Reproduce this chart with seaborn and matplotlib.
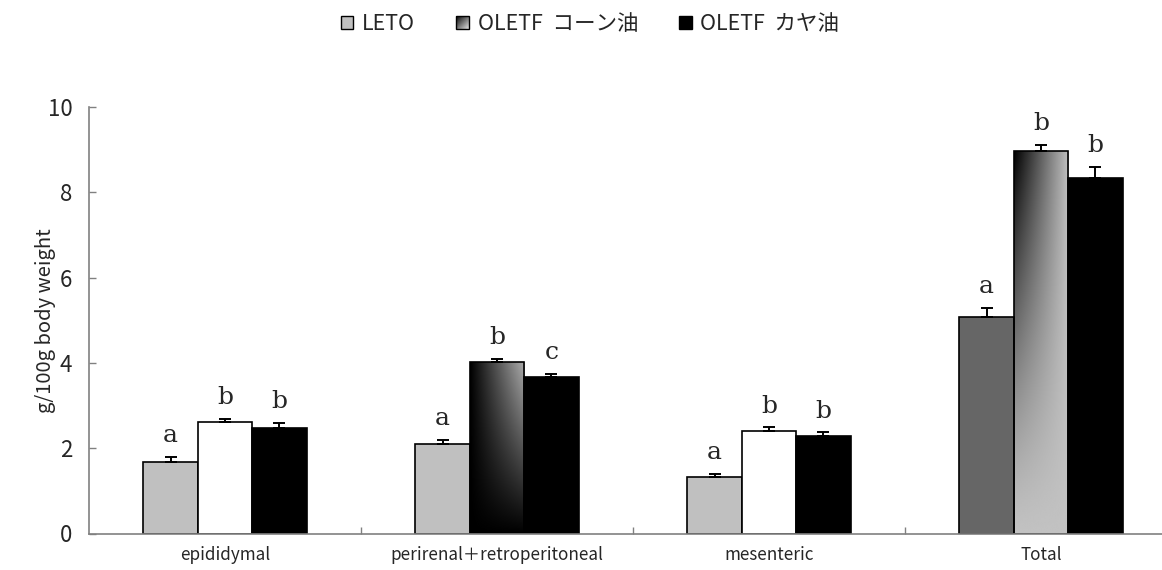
import numpy as np
import pandas as pd
import matplotlib
matplotlib.use("Agg")
import matplotlib.pyplot as plt
import seaborn as sns
from matplotlib.patches import Rectangle
from matplotlib.legend_handler import HandlerBase
from matplotlib.image import BboxImage
from matplotlib.transforms import Bbox, TransformedBbox

# ---- data -------------------------------------------------------------
categories = ["epididymal", "perirenal＋retroperitoneal", "mesenteric", "Total"]
groups = ["LETO", "OLETF  コーン油", "OLETF  カヤ油"]

leto_mean = [1.68, 2.11, 1.33, 5.07]
corn_mean = [2.62, 4.02, 2.40, 8.97]
kaya_mean = [2.47, 3.67, 2.28, 8.34]

leto_se = [0.11, 0.08, 0.06, 0.22]
corn_se = [0.07, 0.08, 0.09, 0.14]
kaya_se = [0.13, 0.08, 0.09, 0.26]

leto_sig = ["a", "a", "a", "a"]
corn_sig = ["b", "b", "b", "b"]
kaya_sig = ["b", "c", "b", "b"]

means = [leto_mean, corn_mean, kaya_mean]
errors = [leto_se, corn_se, kaya_se]
letters = [leto_sig, corn_sig, kaya_sig]

df = pd.DataFrame({
    "category": np.repeat([categories], len(groups), axis=0).ravel(),
    "group": np.repeat(groups, len(categories)),
    "value": np.concatenate(means),
})

# ---- styling ----------------------------------------------------------
sns.set_style("white")
plt.rcParams["font.family"] = ["Noto Sans CJK JP", "DejaVu Sans"]

# per-bar fills (group x category); "corner_tr"/"corner_tl" are gradient fills
fills = [
    ["#c0c0c0", "#c0c0c0", "#c0c0c0", "#666666"],
    ["#ffffff", "corner_tr", "#ffffff", "corner_tl"],
    ["#000000", "#000000", "#000000", "#000000"],
]
legend_fills = ["#c0c0c0", "legend_grad", "#000000"]
spine_gray = "#808080"


def gradient(kind, n=200):
    x = np.linspace(0, 1, n)[None, :]
    y = np.linspace(0, 1, n)[:, None]  # 0 at top row
    if kind == "corner_tr":
        # light toward the upper-right corner
        g = 0.68 * x * (1 - y)
    elif kind == "corner_tl":
        # dark at the upper-left corner, lightening outward
        g = 0.76 * (1 - (1 - x) * (1 - y) ** 1.3)
    else:  # legend swatch: dark top-left to light bottom-right
        g = 0.9 * (x + y) / 2
    return g


fig = plt.figure(figsize=(11.62, 5.70), dpi=100)
ax = fig.add_axes([89 / 1162, 1 - 533.5 / 570, (1177 - 89) / 1162, (533.5 - 107) / 570])

sns.barplot(data=df, x="category", y="value", hue="group", order=categories,
            hue_order=groups, width=0.6, errorbar=None, edgecolor="black",
            linewidth=1.2, palette=["#c0c0c0", "#ffffff", "#000000"],
            legend=False, ax=ax, saturation=1)

bar_containers = list(ax.containers)
for gi, cont in enumerate(bar_containers):
    for ci, patch in enumerate(cont.patches):
        fill = fills[gi][ci]
        x0, w, h = patch.get_x(), patch.get_width(), patch.get_height()
        if fill.startswith("corner"):
            patch.set_facecolor("none")
            im = ax.imshow(gradient(fill), cmap="gray", vmin=0, vmax=1,
                           extent=[x0, x0 + w, 0, h], aspect="auto",
                           interpolation="bilinear", zorder=patch.get_zorder() - 0.01)
            im.set_clip_path(patch)
        else:
            patch.set_facecolor(fill)
        xc = x0 + w / 2
        ax.errorbar([xc], [h], yerr=[[0], [errors[gi][ci]]], fmt="none",
                    ecolor="black", elinewidth=1.4, capsize=4, capthick=1.4,
                    zorder=patch.get_zorder() + 1)
        ax.annotate(letters[gi][ci], (xc, h + errors[gi][ci]), xytext=(0, 7),
                    textcoords="offset points", ha="center", va="bottom",
                    fontsize=18, family="DejaVu Serif")

ax.set_xlim(-0.5, len(categories) - 0.5)
ax.set_ylim(0, 10)
ax.set_yticks(np.arange(0, 11, 2))
ax.set_xlabel("")
ax.set_ylabel("g/100g body weight", fontsize=14.5)
ax.yaxis.set_label_coords(-0.030, 0.5)

ax.tick_params(axis="y", direction="in", length=5, width=1, color=spine_gray,
               labelsize=16, pad=12, left=True)
ax.tick_params(axis="x", which="major", length=0, labelsize=12.3, pad=9)
ax.set_xticks(np.arange(len(categories) - 1) + 0.5, minor=True)
ax.tick_params(axis="x", which="minor", direction="in", length=5, width=1,
               color=spine_gray, bottom=True)

for side in ["top", "right"]:
    ax.spines[side].set_visible(False)
for side in ["left", "bottom"]:
    ax.spines[side].set_color(spine_gray)
    ax.spines[side].set_linewidth(1.2)


class SwatchHandler(HandlerBase):
    def __init__(self, fill):
        super().__init__()
        self.fill = fill

    def create_artists(self, legend, orig_handle, xdescent, ydescent,
                       width, height, fontsize, trans):
        s = min(width, height)
        x0, y0 = -xdescent + (width - s) / 2, -ydescent + (height - s) / 2
        artists = []
        if self.fill == "legend_grad":
            img = BboxImage(TransformedBbox(Bbox.from_bounds(x0, y0, s, s), trans),
                            cmap="gray", norm=matplotlib.colors.Normalize(0, 1),
                            interpolation="bilinear")
            img.set_data(gradient("legend"))
            artists.append(img)
            face = "none"
        else:
            face = self.fill
        rect = Rectangle((x0, y0), s, s, facecolor=face, edgecolor="black",
                         linewidth=1.0, transform=trans)
        artists.append(rect)
        return artists


handles = [Rectangle((0, 0), 1, 1) for _ in groups]
fig.legend(handles, groups, loc="center", bbox_to_anchor=(590 / 1162, 1 - 24 / 570),
           ncol=3, frameon=False, fontsize=15.5, handlelength=0.6, handleheight=0.6,
           handletextpad=0.4, columnspacing=1.9,
           handler_map={h: SwatchHandler(f) for h, f in zip(handles, legend_fills)})

fig.savefig("out.png", dpi=100)
